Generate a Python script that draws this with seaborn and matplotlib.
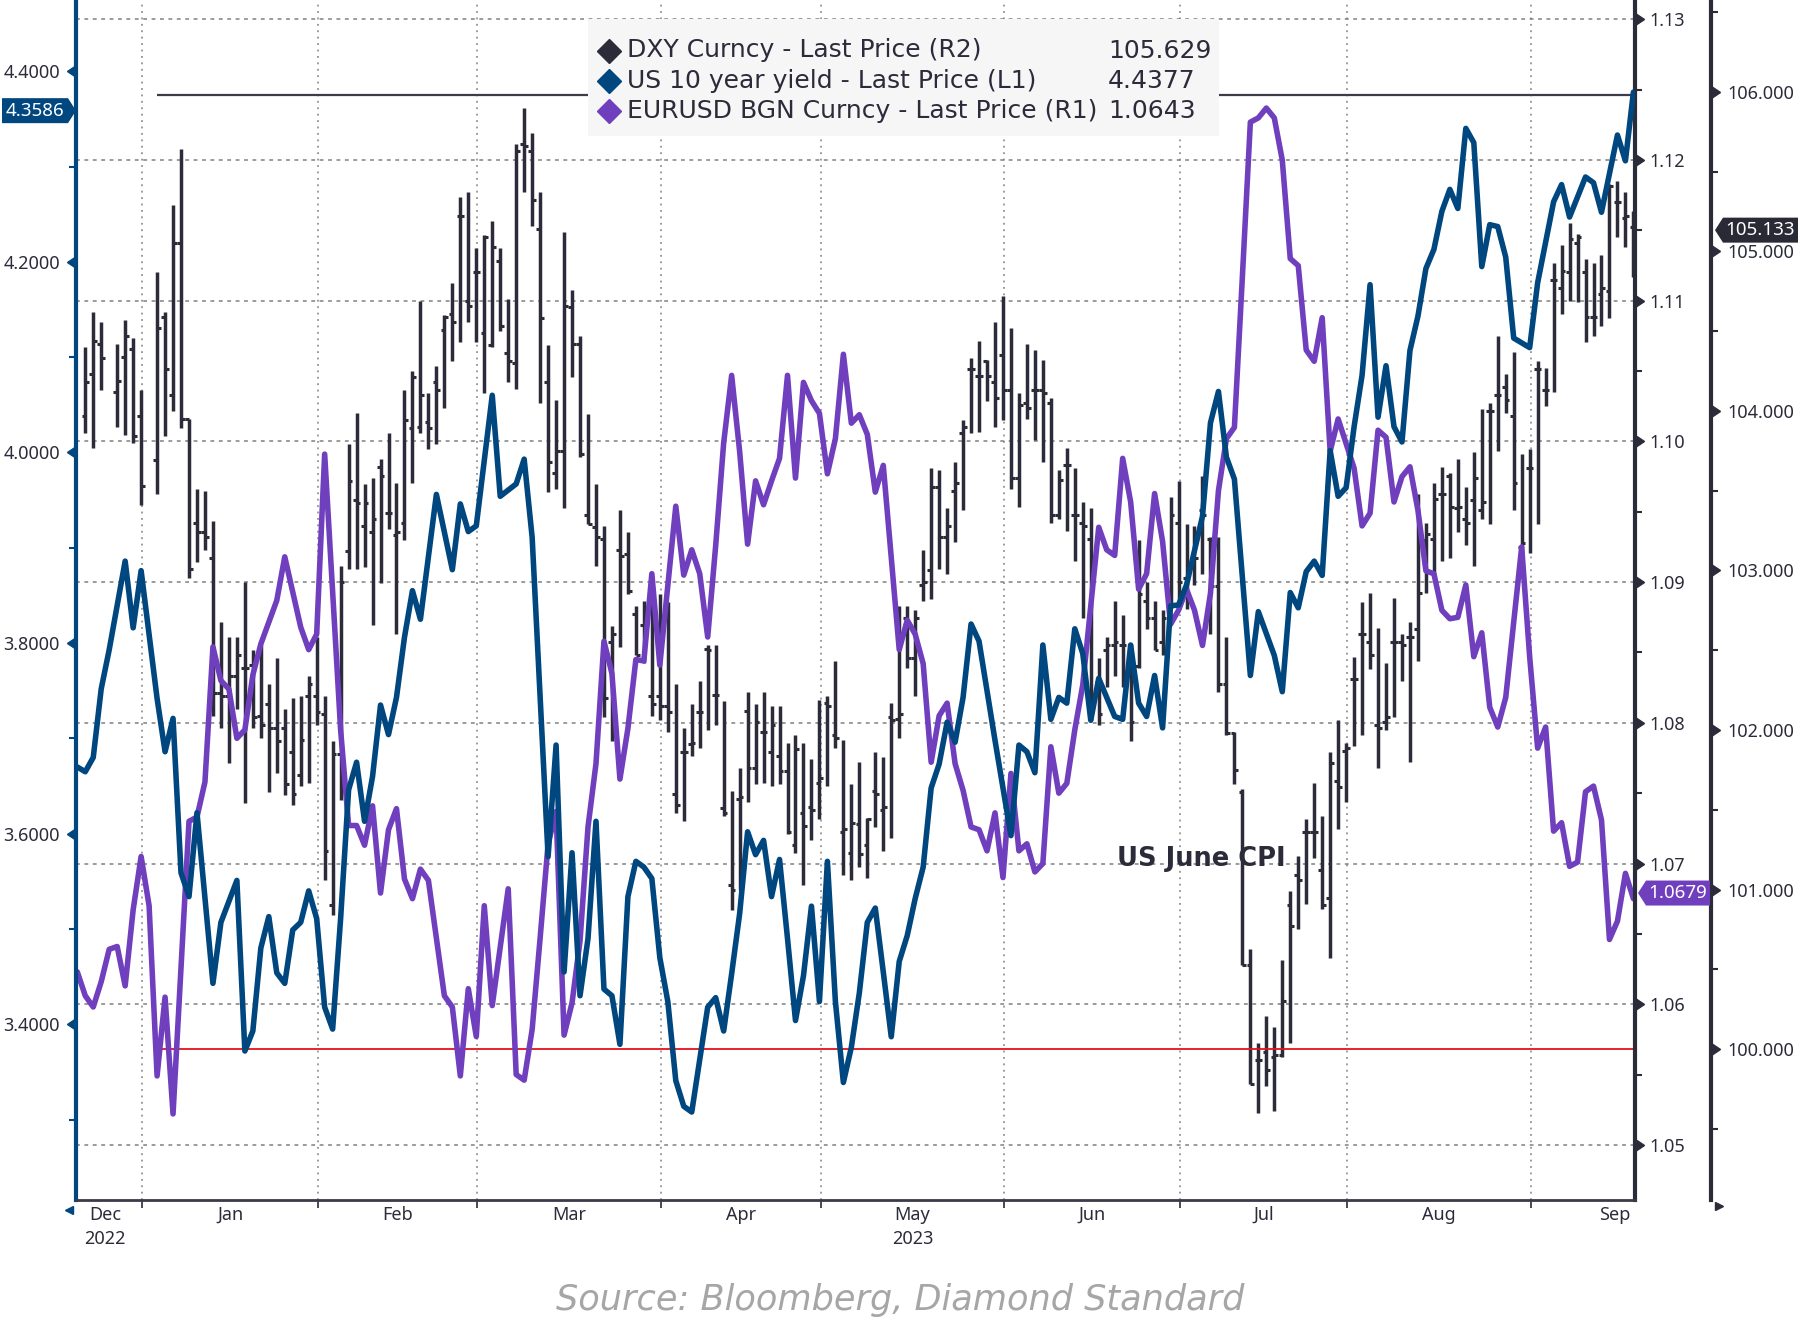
import numpy as np
import pandas as pd
import matplotlib
matplotlib.use("Agg")
import matplotlib.pyplot as plt
import matplotlib.markers as mmarkers
import matplotlib.transforms as mtransforms
from matplotlib.lines import Line2D
from matplotlib.patches import Polygon, Rectangle
from matplotlib.ticker import FixedLocator, FormatStrFormatter, NullFormatter
import seaborn as sns

sns.set_theme(style="white")
plt.rcParams["font.family"] = ["Noto Sans", "DejaVu Sans"]

DARK = "#2b2b3a"
BLUE = "#00467f"
PURPLE = "#6f3fbe"
GRID = "#808080"

# ---- x axis: business days shown on the chart ----
dates = pd.bdate_range("2022-12-21", "2023-09-20")
month_labels = ["Dec\n2022", "Jan", "Feb", "Mar", "Apr", "May\n2023", "Jun", "Jul", "Aug", "Sep"]

# ---- US 10 year yield (L1): business-day index, value ----
yield_day = [0, 1, 2, 3, 4, 6, 7, 8, 10, 11,
             12, 13, 14, 15, 17, 18, 20, 21, 22, 23,
             24, 25, 26, 27, 28, 29, 30, 31, 32, 33,
             34, 35, 36, 37, 38, 39, 40, 41, 42, 43,
             45, 47, 48, 49, 50, 52, 53, 55, 56, 57,
             59, 60, 61, 62, 63, 64, 65, 66, 67, 68,
             69, 70, 71, 72, 73, 74, 75, 76, 77, 79,
             80, 81, 82, 83, 84, 85, 86, 87, 88, 89,
             90, 91, 92, 93, 94, 95, 96, 97, 98, 99,
             100, 101, 102, 103, 104, 105, 106, 107, 108, 109,
             110, 111, 112, 113, 115, 117, 118, 119, 120, 121,
             122, 123, 124, 125, 126, 127, 128, 130, 131, 132,
             133, 134, 135, 136, 137, 138, 139, 141, 142, 143,
             144, 145, 147, 148, 150, 151, 152, 153, 154, 155,
             156, 157, 158, 159, 160, 161, 162, 163, 164, 165,
             166, 167, 168, 169, 170, 171, 172, 173, 174, 175,
             176, 177, 178, 179, 180, 182, 183, 185, 186, 187,
             189, 190, 191, 193, 194, 195]
yield_val = [3.670, 3.665, 3.680, 3.752, 3.793, 3.886, 3.816, 3.876, 3.742, 3.686,
             3.721, 3.559, 3.534, 3.622, 3.443, 3.507, 3.551, 3.372, 3.393, 3.480,
             3.513, 3.454, 3.443, 3.499, 3.507, 3.540, 3.511, 3.418, 3.395, 3.511,
             3.646, 3.675, 3.613, 3.660, 3.735, 3.704, 3.743, 3.806, 3.855, 3.825,
             3.956, 3.877, 3.946, 3.917, 3.923, 4.060, 3.954, 3.967, 3.993, 3.911,
             3.576, 3.693, 3.455, 3.580, 3.430, 3.490, 3.613, 3.437, 3.430, 3.379,
             3.534, 3.571, 3.565, 3.553, 3.470, 3.424, 3.341, 3.314, 3.308, 3.418,
             3.428, 3.393, 3.453, 3.516, 3.602, 3.578, 3.593, 3.534, 3.573, 3.490,
             3.404, 3.451, 3.524, 3.424, 3.571, 3.424, 3.339, 3.376, 3.433, 3.507,
             3.522, 3.455, 3.387, 3.466, 3.493, 3.532, 3.565, 3.648, 3.673, 3.717,
             3.696, 3.743, 3.820, 3.802, 3.698, 3.598, 3.693, 3.686, 3.664, 3.798,
             3.720, 3.743, 3.737, 3.815, 3.789, 3.719, 3.763, 3.723, 3.720, 3.798,
             3.737, 3.723, 3.766, 3.711, 3.839, 3.840, 3.861, 3.933, 4.031, 4.064,
             3.995, 3.972, 3.766, 3.833, 3.787, 3.749, 3.853, 3.837, 3.875, 3.886,
             3.871, 4.002, 3.954, 3.963, 4.027, 4.081, 4.176, 4.037, 4.091, 4.027,
             4.011, 4.107, 4.143, 4.193, 4.213, 4.253, 4.276, 4.256, 4.340, 4.325,
             4.195, 4.239, 4.237, 4.205, 4.120, 4.110, 4.178, 4.263, 4.281, 4.247,
             4.289, 4.283, 4.252, 4.333, 4.306, 4.378]

# ---- EURUSD (R1) ----
eur_day = [0, 1, 2, 3, 4, 5, 6, 7, 8, 9,
           10, 11, 12, 14, 15, 16, 17, 18, 19, 20,
           21, 22, 23, 25, 26, 27, 28, 29, 30, 31,
           33, 34, 35, 36, 37, 38, 39, 40, 41, 42,
           43, 44, 46, 47, 48, 49, 50, 51, 52, 54,
           55, 56, 57, 58, 59, 60, 61, 62, 63, 64,
           65, 66, 67, 68, 69, 70, 71, 72, 73, 75,
           76, 77, 78, 79, 80, 81, 82, 83, 84, 85,
           86, 87, 88, 89, 90, 91, 92, 93, 94, 95,
           96, 97, 98, 99, 100, 101, 103, 104, 105, 106,
           107, 108, 109, 110, 111, 112, 113, 114, 115, 116,
           117, 118, 119, 120, 121, 122, 123, 124, 125, 126,
           128, 129, 130, 131, 132, 133, 134, 135, 136, 137,
           138, 139, 140, 141, 142, 143, 144, 145, 146, 147,
           148, 149, 150, 151, 152, 153, 154, 155, 156, 157,
           158, 160, 161, 162, 163, 164, 165, 166, 167, 168,
           169, 170, 171, 172, 173, 174, 175, 176, 177, 178,
           179, 181, 182, 183, 184, 185, 186, 187, 188, 189,
           190, 191, 192, 193, 194, 195]
eur_val = [1.0623, 1.0606, 1.0598, 1.0616, 1.0639, 1.0641, 1.0613, 1.0667, 1.0705, 1.0670,
           1.0549, 1.0605, 1.0522, 1.0730, 1.0733, 1.0758, 1.0854, 1.0830, 1.0824, 1.0789,
           1.0795, 1.0834, 1.0856, 1.0887, 1.0918, 1.0893, 1.0868, 1.0852, 1.0863, 1.0991,
           1.0795, 1.0727, 1.0727, 1.0713, 1.0741, 1.0679, 1.0724, 1.0739, 1.0689, 1.0675,
           1.0696, 1.0688, 1.0606, 1.0598, 1.0549, 1.0611, 1.0577, 1.0670, 1.0599, 1.0682,
           1.0550, 1.0546, 1.0582, 1.0647, 1.0714, 1.0737, 1.0578, 1.0601, 1.0645, 1.0726,
           1.0771, 1.0858, 1.0835, 1.0760, 1.0796, 1.0845, 1.0844, 1.0906, 1.0841, 1.0954,
           1.0905, 1.0923, 1.0906, 1.0861, 1.0926, 1.0999, 1.1047, 1.0993, 1.0927, 1.0972,
           1.0955, 1.0972, 1.0988, 1.1047, 1.0974, 1.1042, 1.1029, 1.1020, 1.0977, 1.1002,
           1.1062, 1.1013, 1.1019, 1.1005, 1.0964, 1.0983, 1.0852, 1.0873, 1.0863, 1.0842,
           1.0772, 1.0805, 1.0814, 1.0771, 1.0752, 1.0726, 1.0724, 1.0709, 1.0736, 1.0690,
           1.0764, 1.0709, 1.0714, 1.0694, 1.0700, 1.0783, 1.0750, 1.0757, 1.0795, 1.0827,
           1.0939, 1.0923, 1.0919, 1.0988, 1.0957, 1.0895, 1.0906, 1.0963, 1.0929, 1.0870,
           1.0880, 1.0895, 1.0880, 1.0855, 1.0892, 1.0965, 1.1002, 1.1010, 1.1117, 1.1227,
           1.1230, 1.1237, 1.1230, 1.1200, 1.1130, 1.1125, 1.1065, 1.1057, 1.1088, 1.0993,
           1.1016, 1.0981, 1.0940, 1.0949, 1.1008, 1.1003, 1.0957, 1.0975, 1.0982, 1.0951,
           1.0908, 1.0906, 1.0880, 1.0874, 1.0875, 1.0898, 1.0847, 1.0864, 1.0811, 1.0797,
           1.0818, 1.0925, 1.0847, 1.0782, 1.0797, 1.0723, 1.0729, 1.0698, 1.0701, 1.0751,
           1.0755, 1.0731, 1.0646, 1.0659, 1.0693, 1.0675]

# ---- DXY (R2) daily bars ----
dxy_day = [1, 2, 3, 5, 6, 7, 8] + list(range(10, 196))
dxy_open = [103.97, 104.23, 104.42, 104.12, 104.34, 104.39, 103.97,
            103.69, 104.59, 104.10, 105.05, 103.95, 103.30, 103.24, 103.08, 102.23, 102.21,
            102.34, 102.39, 102.41, 102.09, 102.16, 102.01, 102.01, 101.86, 101.72, 102.21,
            102.21, 102.10, 100.90, 101.85, 103.12, 103.44, 103.28, 103.24, 103.65, 103.36,
            103.22, 103.30, 103.89, 103.90, 103.93, 104.18, 104.51, 104.61, 105.22, 104.69,
            104.87, 104.49, 104.41, 104.94, 104.36, 104.30, 105.67, 105.63, 105.14, 104.18,
            103.61, 103.75, 104.65, 104.42, 103.35, 103.27, 103.20, 102.55, 103.13, 103.10,
            102.73, 102.66, 102.21, 102.21, 102.15, 101.60, 101.86, 101.91, 102.11, 102.51,
            102.22, 101.51, 101.03, 101.57, 102.12, 101.76, 101.99, 101.86, 101.84, 101.74,
            101.28, 101.48, 101.52, 101.67, 102.17, 101.97, 101.36, 101.23, 101.41, 101.28,
            101.62, 101.50, 102.08, 102.07, 102.70, 102.45, 102.91, 103.00, 103.52, 103.21,
            103.50, 103.86, 104.26, 104.22, 104.31, 104.18, 104.35, 104.13, 103.58, 104.05,
            104.13, 104.13, 104.05, 103.35, 103.66, 103.35, 103.30, 103.20, 102.30, 102.50,
            102.53, 102.53, 102.40, 102.40, 102.81, 102.70, 102.55, 102.80, 103.30, 102.95,
            103.05, 103.38, 103.20, 102.90, 102.29, 101.98, 101.61, 100.53, 99.93, 99.98,
            99.95, 99.96, 100.90, 101.09, 101.36, 101.36, 101.12, 100.95, 101.68, 101.87,
            102.32, 102.60, 102.55, 102.03, 102.05, 102.55, 102.55, 102.58, 102.63, 103.19,
            103.20, 103.48, 103.59, 103.39, 103.32, 103.44, 103.38, 104.00, 104.10, 104.15,
            103.97, 103.15, 103.64, 104.26, 104.13, 104.82, 104.77, 104.87, 105.05, 104.87,
            104.59, 104.73, 104.75, 105.31, 105.21, 105.15]
dxy_high = [104.40, 104.62, 104.56, 104.42, 104.57, 104.46, 104.13,
            104.87, 104.62, 105.29, 105.64, 103.95, 103.51, 103.50, 103.31, 102.68, 102.58,
            102.58, 102.93, 102.50, 102.53, 102.29, 102.45, 102.13, 102.20, 102.21, 102.34,
            102.58, 102.21, 101.93, 103.03, 103.79, 103.99, 103.54, 103.58, 103.70, 103.86,
            103.55, 104.13, 104.25, 104.69, 104.11, 104.28, 104.60, 104.80, 105.34, 105.37,
            105.02, 105.10, 105.19, 105.02, 104.70, 105.67, 105.90, 105.74, 105.37, 104.41,
            104.07, 105.12, 104.76, 104.47, 103.98, 103.54, 103.28, 102.65, 103.38, 103.24,
            102.78, 102.81, 102.88, 102.85, 102.80, 102.29, 102.01, 102.16, 102.31, 102.53,
            102.53, 102.18, 101.62, 101.76, 102.24, 102.16, 102.24, 102.15, 102.15, 101.92,
            101.97, 101.92, 101.82, 102.19, 102.21, 102.43, 101.94, 101.66, 101.80, 101.45,
            101.86, 101.83, 102.17, 102.78, 102.78, 102.75, 103.13, 103.64, 103.63, 103.39,
            103.68, 103.94, 104.33, 104.44, 104.32, 104.56, 104.72, 104.52, 104.11, 104.42,
            104.38, 104.32, 104.08, 103.63, 103.77, 103.64, 103.43, 103.39, 102.45, 102.58,
            102.81, 102.72, 102.54, 103.19, 102.93, 102.81, 102.75, 103.46, 103.56, 103.29,
            103.28, 103.59, 103.21, 103.21, 102.58, 101.99, 101.63, 100.63, 100.04, 100.21,
            100.14, 100.56, 100.99, 101.21, 101.44, 101.67, 101.46, 101.86, 102.06, 101.92,
            102.46, 102.80, 102.86, 102.64, 102.42, 102.83, 102.60, 102.68, 103.48, 103.30,
            103.55, 103.65, 103.61, 103.70, 103.52, 103.74, 104.01, 104.05, 104.47, 104.23,
            104.37, 103.73, 103.76, 104.31, 104.27, 104.93, 105.04, 105.18, 105.11, 104.95,
            104.93, 104.98, 105.42, 105.44, 105.37, 105.25]
dxy_low = [103.86, 103.77, 104.13, 103.90, 103.85, 103.80, 103.41,
           103.48, 103.84, 104.00, 103.89, 102.95, 103.05, 103.13, 102.09, 102.01, 101.79,
           102.13, 101.54, 102.01, 101.95, 101.61, 101.73, 101.59, 101.53, 101.65, 101.67,
           102.03, 101.06, 100.84, 101.56, 103.01, 103.01, 103.02, 102.66, 102.92, 103.26,
           102.60, 103.19, 103.55, 103.86, 103.76, 103.79, 104.02, 104.31, 104.43, 104.56,
           104.43, 104.11, 104.40, 104.50, 104.18, 104.14, 105.37, 105.16, 104.05, 103.49,
           103.51, 103.39, 104.21, 103.71, 103.29, 103.03, 102.08, 101.93, 102.52, 102.85,
           102.47, 102.42, 102.09, 102.06, 101.99, 101.48, 101.43, 101.84, 101.89, 102.00,
           102.03, 101.46, 100.87, 101.00, 101.55, 101.66, 101.67, 101.65, 101.66, 101.35,
           101.23, 101.03, 101.31, 101.44, 101.65, 101.89, 101.09, 101.06, 101.14, 101.07,
           101.39, 101.24, 101.32, 101.95, 102.39, 102.21, 102.81, 102.82, 103.01, 102.98,
           103.18, 103.38, 103.86, 103.87, 104.06, 103.90, 103.94, 103.51, 103.40, 103.95,
           103.82, 103.68, 103.30, 103.32, 103.25, 103.06, 102.70, 102.06, 102.03, 102.27,
           102.34, 102.27, 101.93, 102.39, 102.63, 102.50, 102.47, 102.78, 102.76, 102.76,
           102.91, 102.98, 102.60, 102.24, 101.97, 101.66, 100.53, 99.78, 99.60, 99.77,
           99.61, 99.95, 100.04, 100.75, 100.91, 101.20, 100.88, 100.57, 101.38, 101.55,
           101.90, 101.97, 102.38, 101.76, 102.00, 102.08, 102.31, 101.80, 102.43, 102.86,
           102.96, 103.06, 103.08, 103.24, 103.16, 103.03, 103.32, 103.29, 103.75, 103.99,
           103.38, 103.11, 103.11, 103.29, 104.03, 104.12, 104.61, 104.69, 104.68, 104.43,
           104.47, 104.53, 104.58, 105.09, 105.03, 104.84]
dxy_close = [104.18, 104.44, 104.33, 104.19, 104.47, 103.84, 103.53,
             104.52, 104.26, 105.05, 103.95, 103.01, 103.24, 103.21, 102.23, 102.21, 102.34,
             102.47, 102.39, 102.08, 102.03, 102.01, 101.93, 101.66, 101.60, 101.94, 102.29,
             102.11, 101.24, 101.85, 102.93, 103.56, 103.42, 103.42, 103.32, 103.59, 103.36,
             103.24, 103.94, 104.21, 104.10, 103.89, 104.13, 104.59, 104.56, 105.22, 104.66,
             104.87, 105.09, 105.03, 104.53, 104.31, 105.63, 105.66, 105.32, 104.58, 103.68,
             103.75, 104.66, 104.42, 103.73, 103.29, 103.21, 102.20, 102.60, 103.09, 102.87,
             102.47, 102.64, 102.16, 102.15, 102.11, 101.53, 101.86, 101.92, 102.11, 102.50,
             102.22, 101.48, 101.00, 101.58, 101.76, 102.05, 101.99, 102.03, 101.74, 101.36,
             101.88, 101.40, 101.50, 101.70, 102.15, 101.95, 101.38, 101.42, 101.22, 101.44,
             101.60, 101.52, 102.06, 102.10, 102.45, 102.70, 102.93, 103.52, 103.21, 103.28,
             103.55, 103.90, 104.26, 104.22, 104.22, 104.08, 104.13, 103.58, 104.04, 104.02,
             104.13, 104.11, 103.35, 103.57, 103.66, 103.35, 103.28, 102.20, 102.10, 102.53,
             102.55, 102.53, 102.05, 102.85, 102.70, 102.50, 102.70, 103.35, 102.93, 103.02,
             103.08, 103.35, 102.90, 102.29, 101.98, 101.75, 100.53, 99.78, 99.93, 99.87,
             99.96, 100.30, 100.77, 101.06, 101.36, 101.36, 100.90, 101.79, 101.64, 101.89,
             102.32, 102.60, 102.47, 102.01, 102.08, 102.55, 102.53, 102.58, 102.86, 103.23,
             103.45, 103.48, 103.40, 103.40, 103.30, 103.58, 103.43, 104.00, 104.10, 104.07,
             103.55, 103.17, 103.64, 104.26, 104.13, 104.82, 104.88, 105.08, 105.09, 104.59,
             104.59, 104.77, 105.41, 105.31, 105.22, 105.13]

# horizontal DXY reference levels
dxy_levels = [105.98, 100.0]
level_start_day = 10

# legend and last-value tags
legend_names = ["DXY Curncy - Last Price (R2)", "US 10 year yield - Last Price (L1)",
                "EURUSD BGN Curncy - Last Price (R1)"]
legend_values = ["105.629", "4.4377", "1.0643"]
tag_yield, tag_dxy, tag_eur = 4.3586, 105.133, 1.0679

assert len(yield_day) == len(yield_val)
assert len(eur_day) == len(eur_val)
assert len(dxy_day) == len(dxy_open) == len(dxy_high) == len(dxy_low) == len(dxy_close)

# ---------------- figure ----------------
W, H, DPI = 1800, 1320, 100
fig = plt.figure(figsize=(W / DPI, H / DPI), dpi=DPI)
fig.patch.set_facecolor("white")

L, R, T, B = 76, 1635, 2, 1200
ax = fig.add_axes([L / W, 1 - B / H, (R - L) / W, (B - T) / H])
ax_eur = ax.twinx()
ax_dxy = ax.twinx()
for a, z in ((ax_dxy, 1), (ax_eur, 2), (ax, 3)):
    a.set_zorder(z)
    a.patch.set_visible(False)

xmin, xmax = -0.16, 195.2
r2_offset = (1711 - L) / (R - L)

# DXY bars
d = np.array(dxy_day, dtype=float)
ax_dxy.vlines(d, dxy_low, dxy_high, color=DARK, lw=2.5)
ax_dxy.hlines(dxy_open, d - 0.47, d, color=DARK, lw=2.2)
ax_dxy.hlines(dxy_close, d, d + 0.47, color=DARK, lw=2.2)
ax_dxy.hlines(dxy_levels[0], level_start_day, xmax, color="#3c3c4a", lw=1.6)
ax_dxy.hlines(dxy_levels[1], level_start_day, xmax, color="#e3121b", lw=1.3)

# lines
sns.lineplot(x=eur_day, y=eur_val, ax=ax_eur, color=PURPLE, lw=4.0, sort=False)
sns.lineplot(x=yield_day, y=yield_val, ax=ax, color=BLUE, lw=4.0, sort=False)

ax.set_xlim(xmin, xmax)
ax.set_ylim(3.2157, 4.4726)
ax_eur.set_ylim(1.04608, 1.13124)
ax_dxy.set_ylim(99.054, 106.563)
for a in (ax, ax_eur, ax_dxy):
    a.set_xlabel("")
    a.set_ylabel("")

# spines
for a in (ax, ax_eur, ax_dxy):
    for s in a.spines.values():
        s.set_visible(False)
ax.spines["left"].set_visible(True)
ax.spines["left"].set_color(BLUE)
ax.spines["left"].set_linewidth(3)
ax.spines["bottom"].set_visible(True)
ax.spines["bottom"].set_color("#3a3a48")
ax.spines["bottom"].set_linewidth(2)
ax_eur.spines["right"].set_visible(True)
ax_eur.spines["right"].set_color(DARK)
ax_eur.spines["right"].set_linewidth(3)
ax_dxy.spines["right"].set_visible(True)
ax_dxy.spines["right"].set_position(("axes", r2_offset))
ax_dxy.spines["right"].set_color(DARK)
ax_dxy.spines["right"].set_linewidth(3)

# y ticks
yl_major = np.round(np.arange(3.4, 4.41, 0.2), 4)
yl_minor = np.round(np.arange(3.3, 4.45, 0.2), 4)
r1_major = np.round(np.arange(1.05, 1.1305, 0.01), 4)
r1_minor = np.round(np.arange(1.055, 1.131, 0.01), 4)
r2_major = np.arange(100, 107, 1.0)
r2_minor = np.arange(99.5, 106.6, 1.0)

ax.yaxis.set_major_locator(FixedLocator(yl_major))
ax.yaxis.set_minor_locator(FixedLocator(yl_minor))
ax.yaxis.set_major_formatter(FormatStrFormatter("%.4f"))
ax.tick_params(axis="y", which="major", left=True, right=False, length=0, pad=11.5,
               labelsize=13, labelcolor=DARK)
ax.tick_params(axis="y", which="minor", left=True, right=False, length=5, width=1.5, color=BLUE)

ax_eur.yaxis.set_major_locator(FixedLocator(r1_major))
ax_eur.yaxis.set_minor_locator(FixedLocator(r1_minor))
ax_eur.yaxis.set_major_formatter(FormatStrFormatter("%.2f"))
ax_eur.tick_params(axis="y", which="major", right=True, left=False, length=0, pad=10.5,
                   labelsize=13, labelcolor=DARK)
ax_eur.tick_params(axis="y", which="minor", right=True, left=False, length=5, width=1.5, color=DARK)

ax_dxy.yaxis.set_major_locator(FixedLocator(r2_major))
ax_dxy.yaxis.set_minor_locator(FixedLocator(r2_minor))
ax_dxy.yaxis.set_major_formatter(FormatStrFormatter("%.3f"))
ax_dxy.tick_params(axis="y", which="major", right=True, left=False, length=0, pad=11.5,
                   labelsize=13, labelcolor=DARK)
ax_dxy.tick_params(axis="y", which="minor", right=True, left=False, length=5, width=1.5, color=DARK)

# triangle tick markers
ax.plot(np.zeros(len(yl_major)), yl_major, ls="none", marker=mmarkers.CARETLEFTBASE, ms=9,
        color=BLUE, clip_on=False,
        transform=mtransforms.blended_transform_factory(ax.transAxes, ax.transData))
ax_eur.plot(np.ones(len(r1_major)), r1_major, ls="none", marker=mmarkers.CARETRIGHTBASE, ms=9,
            color=DARK, clip_on=False,
            transform=mtransforms.blended_transform_factory(ax_eur.transAxes, ax_eur.transData))
ax_dxy.plot(np.full(len(r2_major), r2_offset), r2_major, ls="none", marker=mmarkers.CARETRIGHTBASE,
            ms=9, color=DARK, clip_on=False,
            transform=mtransforms.blended_transform_factory(ax_dxy.transAxes, ax_dxy.transData))

# x ticks: month boundaries + month labels centred on each calendar month
month_start = [i for i in range(1, len(dates)) if dates[i].month != dates[i - 1].month]
bounds = [m + 0.15 for m in month_start]
label_pos = [(month_start[0] - 1) / 2]
for m in month_start:
    first = dates[m]
    n_full = len(pd.bdate_range(first.replace(day=1), first + pd.offsets.MonthEnd(0)))
    label_pos.append(m + n_full / 2 + 0.15)
ax.xaxis.set_major_locator(FixedLocator(bounds))
ax.xaxis.set_major_formatter(NullFormatter())
ax.tick_params(axis="x", which="major", bottom=True, length=6, width=1.2, color=DARK)
ax.set_xticks(label_pos, minor=True)
ax.set_xticklabels(month_labels, minor=True, linespacing=1.45)
ax.tick_params(axis="x", which="minor", bottom=True, length=0, pad=4, labelsize=13, labelcolor=DARK)

# grid (drawn in the bottom layer)
for b in bounds:
    ax_dxy.axvline(b, color=GRID, lw=1.1, ls=(0, (1.2, 3.0)), zorder=0)
grid_tf = mtransforms.blended_transform_factory(ax_dxy.transAxes, ax_eur.transData)
for v in r1_major:
    ax_dxy.plot([0, 1], [v, v], transform=grid_tf, color=GRID, lw=1.1, ls=(0, (2.5, 3.0)), zorder=0)

# annotation
ax_dxy.text(130.3, 101.19, "US June CPI", ha="left", va="center", fontsize=18.5,
            fontweight="bold", family="DejaVu Sans", color=DARK)

# legend box
fig.add_artist(Rectangle((588 / W, 1 - 136 / H), 631 / W, 117 / H, transform=fig.transFigure,
                         facecolor="#f6f6f7", edgecolor="none", zorder=15))
for row, (name, val, col) in enumerate(zip(legend_names, legend_values, [DARK, BLUE, PURPLE])):
    yy = 1 - (50.5 + row * 30.3) / H
    fig.add_artist(Line2D([609 / W], [yy], marker="D", ms=12, color=col, ls="none",
                          transform=fig.transFigure, zorder=16))
    fig.text(627 / W, yy, name, ha="left", va="center", fontsize=18, family="DejaVu Sans",
             color=DARK, zorder=16)
    fig.text(1108 / W, yy, val, ha="left", va="center", fontsize=18, family="DejaVu Sans",
             color=DARK, zorder=16)


# last value tags
def tag(text, value, axis, x0, x1, point, color):
    y = axis.transData.transform((0, value))[1]
    h, tip = 12.5, 8
    if point == "right":
        verts = [(x0, y - h), (x1 - tip, y - h), (x1, y), (x1 - tip, y + h), (x0, y + h)]
        cx = (x0 + x1 - tip) / 2
    else:
        verts = [(x0, y), (x0 + tip, y - h), (x1, y - h), (x1, y + h), (x0 + tip, y + h)]
        cx = (x0 + tip + x1) / 2
    fig.add_artist(Polygon(verts, closed=True, facecolor=color, edgecolor="none",
                           transform=mtransforms.IdentityTransform(), zorder=20))
    fig.text(cx / W, y / H, text, color="white", ha="center", va="center", fontsize=13.5, zorder=21)


tag(f"{tag_yield:.4f}", tag_yield, ax, 2, 76, "right", BLUE)
tag(f"{tag_dxy:.3f}", tag_dxy, ax_dxy, 1715, 1798, "left", "#2a2a36")
tag(f"{tag_eur:.4f}", tag_eur, ax_eur, 1638, 1710, "left", PURPLE)

# axis end arrows
fig.add_artist(Line2D([69 / W], [1 - 1210 / H], marker="<", ms=6, color=BLUE, ls="none",
                      transform=fig.transFigure, zorder=16))
fig.add_artist(Line2D([1719 / W], [1 - 1206 / H], marker=">", ms=6, color=DARK, ls="none",
                      transform=fig.transFigure, zorder=16))

fig.text(0.5, 1 - 1300 / H, "Source: Bloomberg, Diamond Standard", ha="center", va="center",
         fontsize=25.3, style="italic", fontweight="light", family="DejaVu Sans",
         color="#a6a6a6")

fig.savefig("out.png", dpi=DPI, facecolor="white")
